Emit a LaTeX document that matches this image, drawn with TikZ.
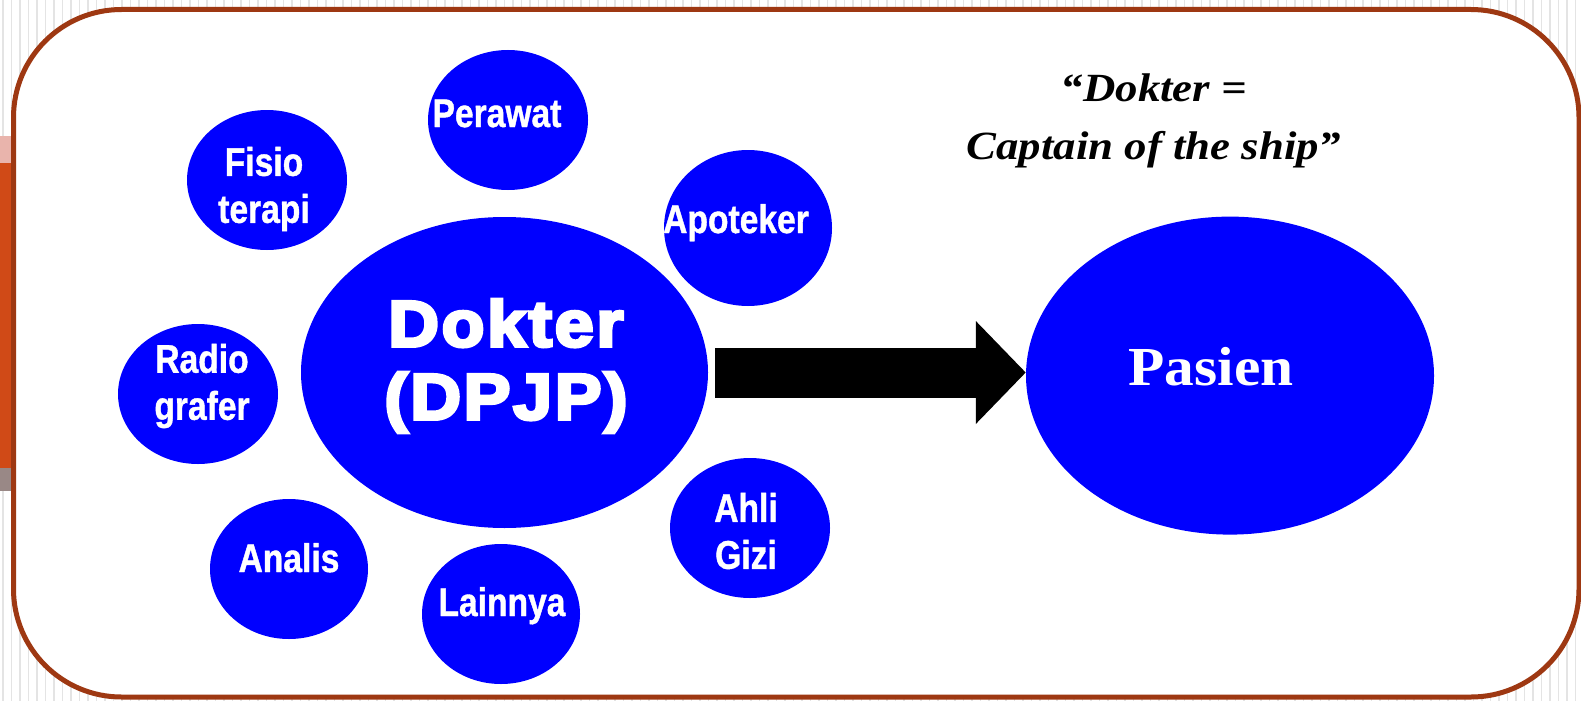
\documentclass[tikz,border=0pt]{standalone}
\usepackage{fontspec}
\usetikzlibrary{arrows.meta,shapes.geometric}
\newfontfamily\lblfont[FakeStretch=0.84,FakeBold=1]{Liberation Sans}
\newfontfamily\heavyfont[FakeStretch=1.08,FakeBold=5,LetterSpace=4]{Liberation Sans}
\newfontfamily\serifbold[FakeStretch=1.08]{Liberation Serif}
\newfontfamily\quotefont[FakeStretch=1.12]{Liberation Serif}
\definecolor{framebrown}{RGB}{158,56,18}
\definecolor{barpink}{RGB}{233,180,172}
\definecolor{barorange}{RGB}{208,74,23}
\definecolor{bargray}{RGB}{153,136,134}
\definecolor{stripegray}{RGB}{228,228,228}
\begin{document}
\begin{tikzpicture}[x=1pt,y=-1pt,
  stripe/.style={draw=stripegray, line width=1.2pt},
  frame/.style={draw=framebrown, line width=5pt, fill=white, rounded corners=108pt},
  bubble/.style={ellipse, fill=blue, inner sep=0pt},
  smallbub/.style={bubble, minimum width=160pt, minimum height=140pt},
  lbl/.style={text=white, inner sep=0pt, align=center,
    font=\lblfont\bfseries\fontsize{40}{47}\selectfont},
  bigarrow/.style={line width=50pt, draw=black,
    -{Triangle[length=50pt,width=100pt]}}]
\useasboundingbox (0,0) rectangle (1581,701);

% striped page background
\foreach \i in {0,...,186}
  \draw[stripe] (\i*8.5+3,0) -- (\i*8.5+3,701);

% coloured bar on the left margin
\fill[barpink] (0,136) rectangle (11,163);
\fill[barorange] (0,163) rectangle (11,468);
\fill[bargray] (0,468) rectangle (11,491);

% rounded frame
\draw[frame] (13.5,9.5) rectangle (1579,697);

% central doctor and surrounding professions
\node[bubble, minimum width=407pt, minimum height=311pt] (dokter) at (504.5,372.5) {};
\node[smallbub] (perawat) at (508,120) {};
\node[smallbub] (fisio) at (267,180) {};
\node[bubble, minimum width=168pt, minimum height=156pt] (apoteker) at (748,228) {};
\node[smallbub] (radio) at (198,394) {};
\node[smallbub] (gizi) at (750,528) {};
\node[bubble, minimum width=158pt, minimum height=140pt] (analis) at (289,569) {};
\node[bubble, minimum width=158pt, minimum height=140pt] (lainnya) at (501,614) {};
\node[bubble, minimum width=408pt, minimum height=318pt] (pasien) at (1230,375.6) {};

% labels
\node[lbl, anchor=base] (perawat-t) at (497,127) {Perawat};
\node[lbl] (fisio-t) at (264,189) {Fisio\\terapi};
\node[lbl, anchor=base] (apoteker-t) at (736,233) {Apoteker};
\node[lbl] (radio-t) at (202,386) {Radio\\grafer};
\node[lbl] (gizi-t) at (746,531) {Ahli\\Gizi};
\node[lbl, anchor=base] (analis-t) at (289,572) {Analis};
\node[lbl, anchor=base] (lainnya-t) at (502,616) {Lainnya};
\node[text=white, inner sep=0pt, align=center,
  font=\heavyfont\bfseries\fontsize{65}{73}\selectfont] (dokter-t) at (506,366) {Dokter\\(DPJP)};
\node[text=white, inner sep=0pt, anchor=base,
  font=\serifbold\bfseries\fontsize{55}{60}\selectfont] (pasien-t) at (1211,385) {Pasien};

% quotation
\node[inner sep=0pt, align=center,
  font=\quotefont\bfseries\itshape\fontsize{40}{58}\selectfont] (quote) at (1154,121)
  {“Dokter =\\Captain of the ship”};

% block arrow from doctor to patient
\draw[bigarrow, shorten <=7pt] (dokter.east) -- (dokter.east -| pasien.west);
\end{tikzpicture}
\end{document}
